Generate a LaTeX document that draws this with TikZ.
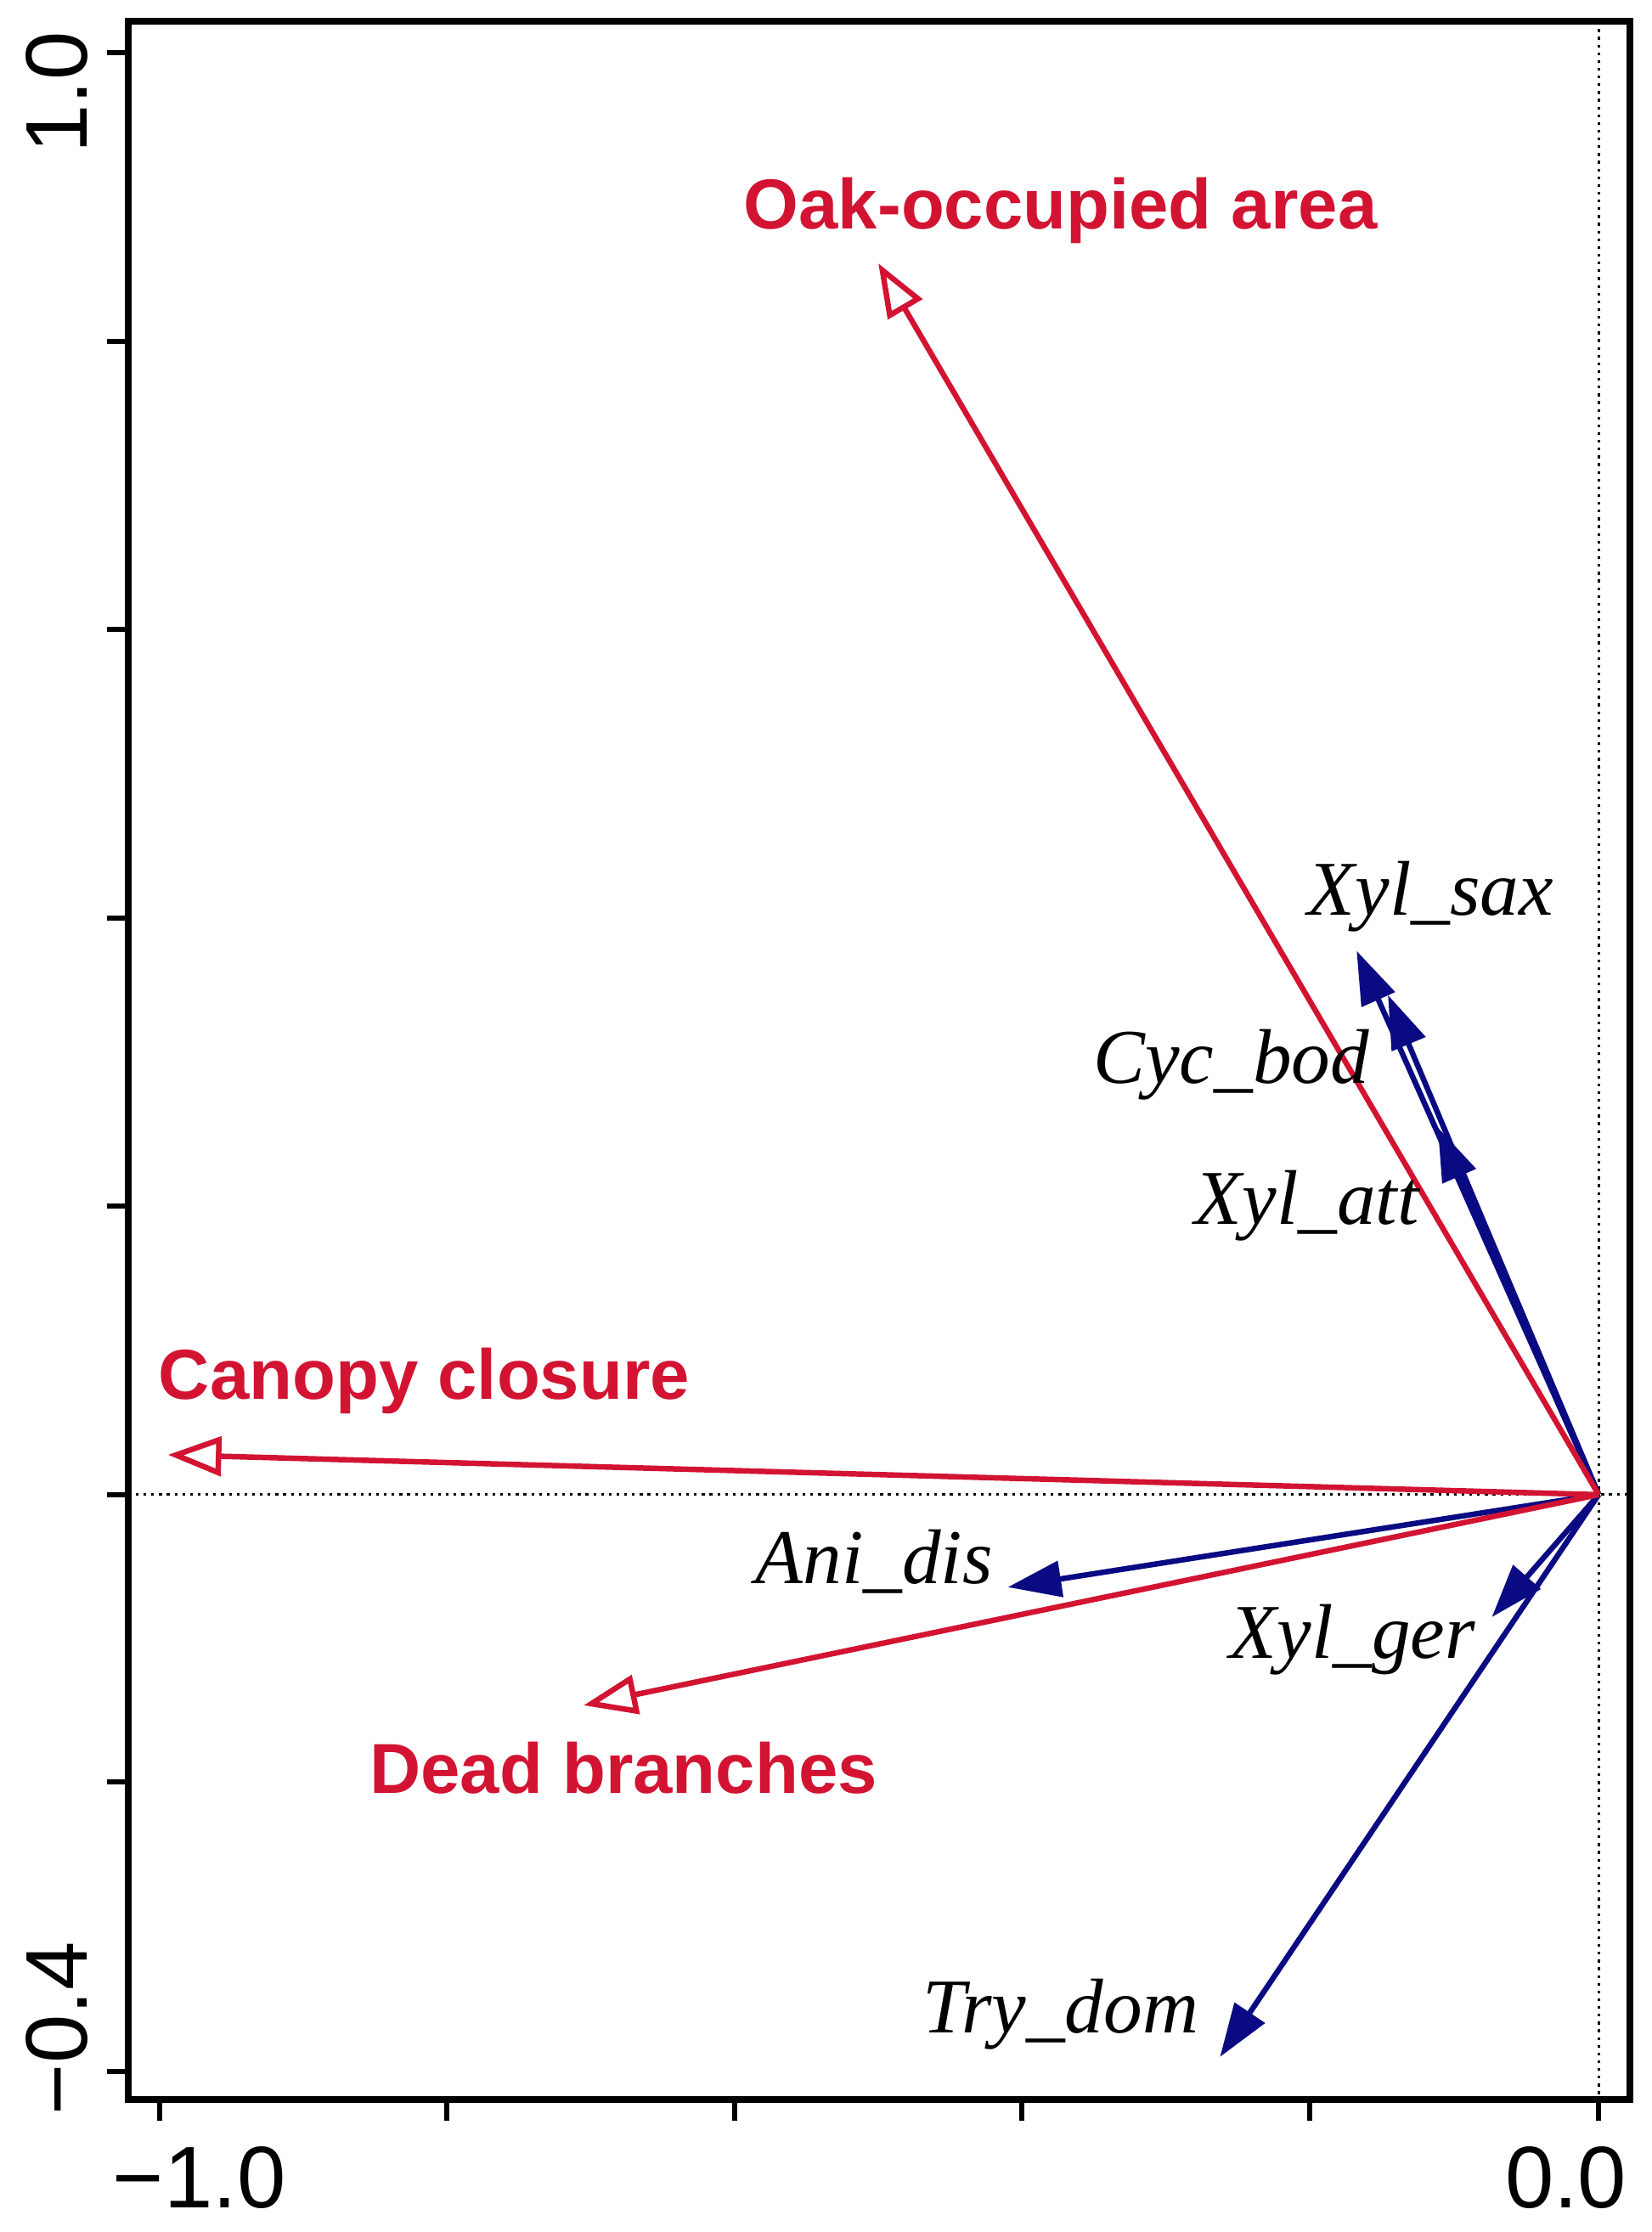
\documentclass[tikz,border=0pt]{standalone}
\usepackage{fontspec}
\setmainfont{Liberation Serif}
\newfontfamily\lsans{Liberation Sans}
\usetikzlibrary{arrows.meta}
\definecolor{env}{RGB}{210,20,50}
\definecolor{spc}{RGB}{10,10,130}
\begin{document}
\begin{tikzpicture}[x=0.02cm,y=-0.02cm,
  envarr/.style={env,line width=2.2pt,-{Triangle[open,length=0.75cm,width=0.55cm,fill=white]}},
  sparr/.style={spc,line width=2.2pt,-{Triangle[length=0.75cm,width=0.5cm]}},
  envlab/.style={env,font=\lsans\bfseries\fontsize{28.3}{32}\selectfont},
  splab/.style={font=\itshape\fontsize{31}{36}\selectfont},
  ticklab/.style={font=\lsans\fontsize{35}{40}\selectfont}]
\useasboundingbox (0,0) rectangle (1160,1568);
\draw[dotted,line width=1.1pt] (90,1050) -- (1145,1050);
\draw[dotted,line width=1.1pt] (1123,15) -- (1123,1475);
\draw[line width=2.8pt] (90,15) rectangle (1145,1475);
\foreach \x in {112,314,516,718,920,1123} \draw[line width=2pt] (\x,1475) -- (\x,1490);
\foreach \y in {37,240,442,645,847,1050,1252,1455} \draw[line width=2pt] (90,\y) -- (75,\y);
\node[ticklab,rotate=90] (t1) at (40,65) {1.0};
\node[ticklab,rotate=90] (t2) at (40,1425) {−0.4};
\node[ticklab] (t3) at (140,1530) {−1.0};
\node[ticklab] (t4) at (1100,1530) {0.0};
\coordinate (o) at (1123,1050);
\coordinate (oak) at (617,185);
\coordinate (can) at (118,1022);
\coordinate (dead) at (410,1198);
\coordinate (xs) at (953,668);
\coordinate (cb) at (975,699);
\coordinate (xa) at (1010,792);
\coordinate (ad) at (708,1115);
\coordinate (xg) at (1048,1136);
\coordinate (td) at (857,1445);
\draw[sparr] (o) -- (xs);
\draw[sparr] (o) -- (cb);
\draw[sparr] (o) -- (xa);
\draw[sparr] (o) -- (ad);
\draw[sparr] (o) -- (xg);
\draw[sparr] (o) -- (td);
\draw[envarr] (o) -- (oak);
\draw[envarr] (o) -- (can);
\draw[envarr] (o) -- (dead);
\node[envlab] (loak) at (745,148) {Oak-occupied area};
\node[envlab] (lcan) at (298,970) {Canopy closure};
\node[envlab] (ldead) at (438,1242) {Dead branches};
\node[splab] (lxs) at (1005,630) {Xyl\_sax};
\node[splab] (lcb) at (865,748) {Cyc\_bod};
\node[splab] (lxa) at (918,847) {Xyl\_att};
\node[splab] (lad) at (614,1097) {Ani\_dis};
\node[splab] (lxg) at (950,1152) {Xyl\_ger};
\node[splab] (ltd) at (745,1415) {Try\_dom};
\end{tikzpicture}
\end{document}
